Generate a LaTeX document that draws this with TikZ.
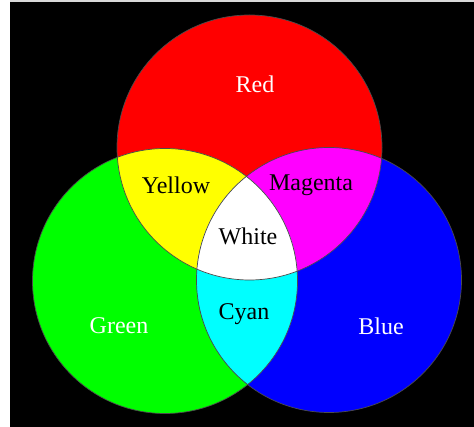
\documentclass[tikz,border=0pt]{standalone}
\usepackage{fontspec}
\setmainfont{Liberation Serif}
\usetikzlibrary{positioning}
\definecolor{rgbred}{RGB}{255,0,0}
\definecolor{rgbgreen}{RGB}{0,255,0}
\definecolor{rgbblue}{RGB}{0,0,255}
\definecolor{rgbyellow}{RGB}{255,255,0}
\definecolor{rgbmagenta}{RGB}{255,0,255}
\definecolor{rgbcyan}{RGB}{0,255,255}

\begin{document}
\begin{tikzpicture}[
    x=1pt, y=-1pt,
    disc/.style={draw=black!70, line width=0.7pt},
    lightlabel/.style={text=white, font=\fontsize{24}{28}\selectfont},
    darklabel/.style={text=black, font=\fontsize{24}{28}\selectfont}
]

% Frame
\fill[white] (0,0) rectangle (474,427);
\fill[black!15] (10,0.5) rectangle (474,2);
\fill[black] (10,2) rectangle (474,427);
\useasboundingbox (0,0) rectangle (474,427);

% Centres
\def\rad{132.5}
\coordinate (cR) at (249.5,147.5);
\coordinate (cG) at (165,281);
\coordinate (cB) at (329,280);

% Primary discs
\fill[rgbred] (cR) circle (\rad);
\fill[rgbgreen] (cG) circle (\rad);
\fill[rgbblue] (cB) circle (\rad);

% Overlaps
\begin{scope}
  \clip (cR) circle (\rad);
  \fill[rgbyellow] (cG) circle (\rad);
  \fill[rgbmagenta] (cB) circle (\rad);
\end{scope}
\begin{scope}
  \clip (cG) circle (\rad);
  \fill[rgbcyan] (cB) circle (\rad);
  \clip (cB) circle (\rad);
  \fill[white] (cR) circle (\rad);
\end{scope}

% Outlines
\draw[disc] (cR) circle (\rad);
\draw[disc] (cG) circle (\rad);
\draw[disc] (cB) circle (\rad);

% Labels
\node[lightlabel] (red) at (255,84) {Red};
\node[lightlabel] (green) at (119,326) {Green};
\node[lightlabel] (blue) at (381,326) {Blue};
\node[darklabel] (yellow) at (176,185) {Yellow};
\node[darklabel] (magenta) at (311,185) {Magenta};
\node[darklabel] (cyan) at (244,314) {Cyan};
\node[darklabel] (white) at (248,236) {White};

\end{tikzpicture}
\end{document}
